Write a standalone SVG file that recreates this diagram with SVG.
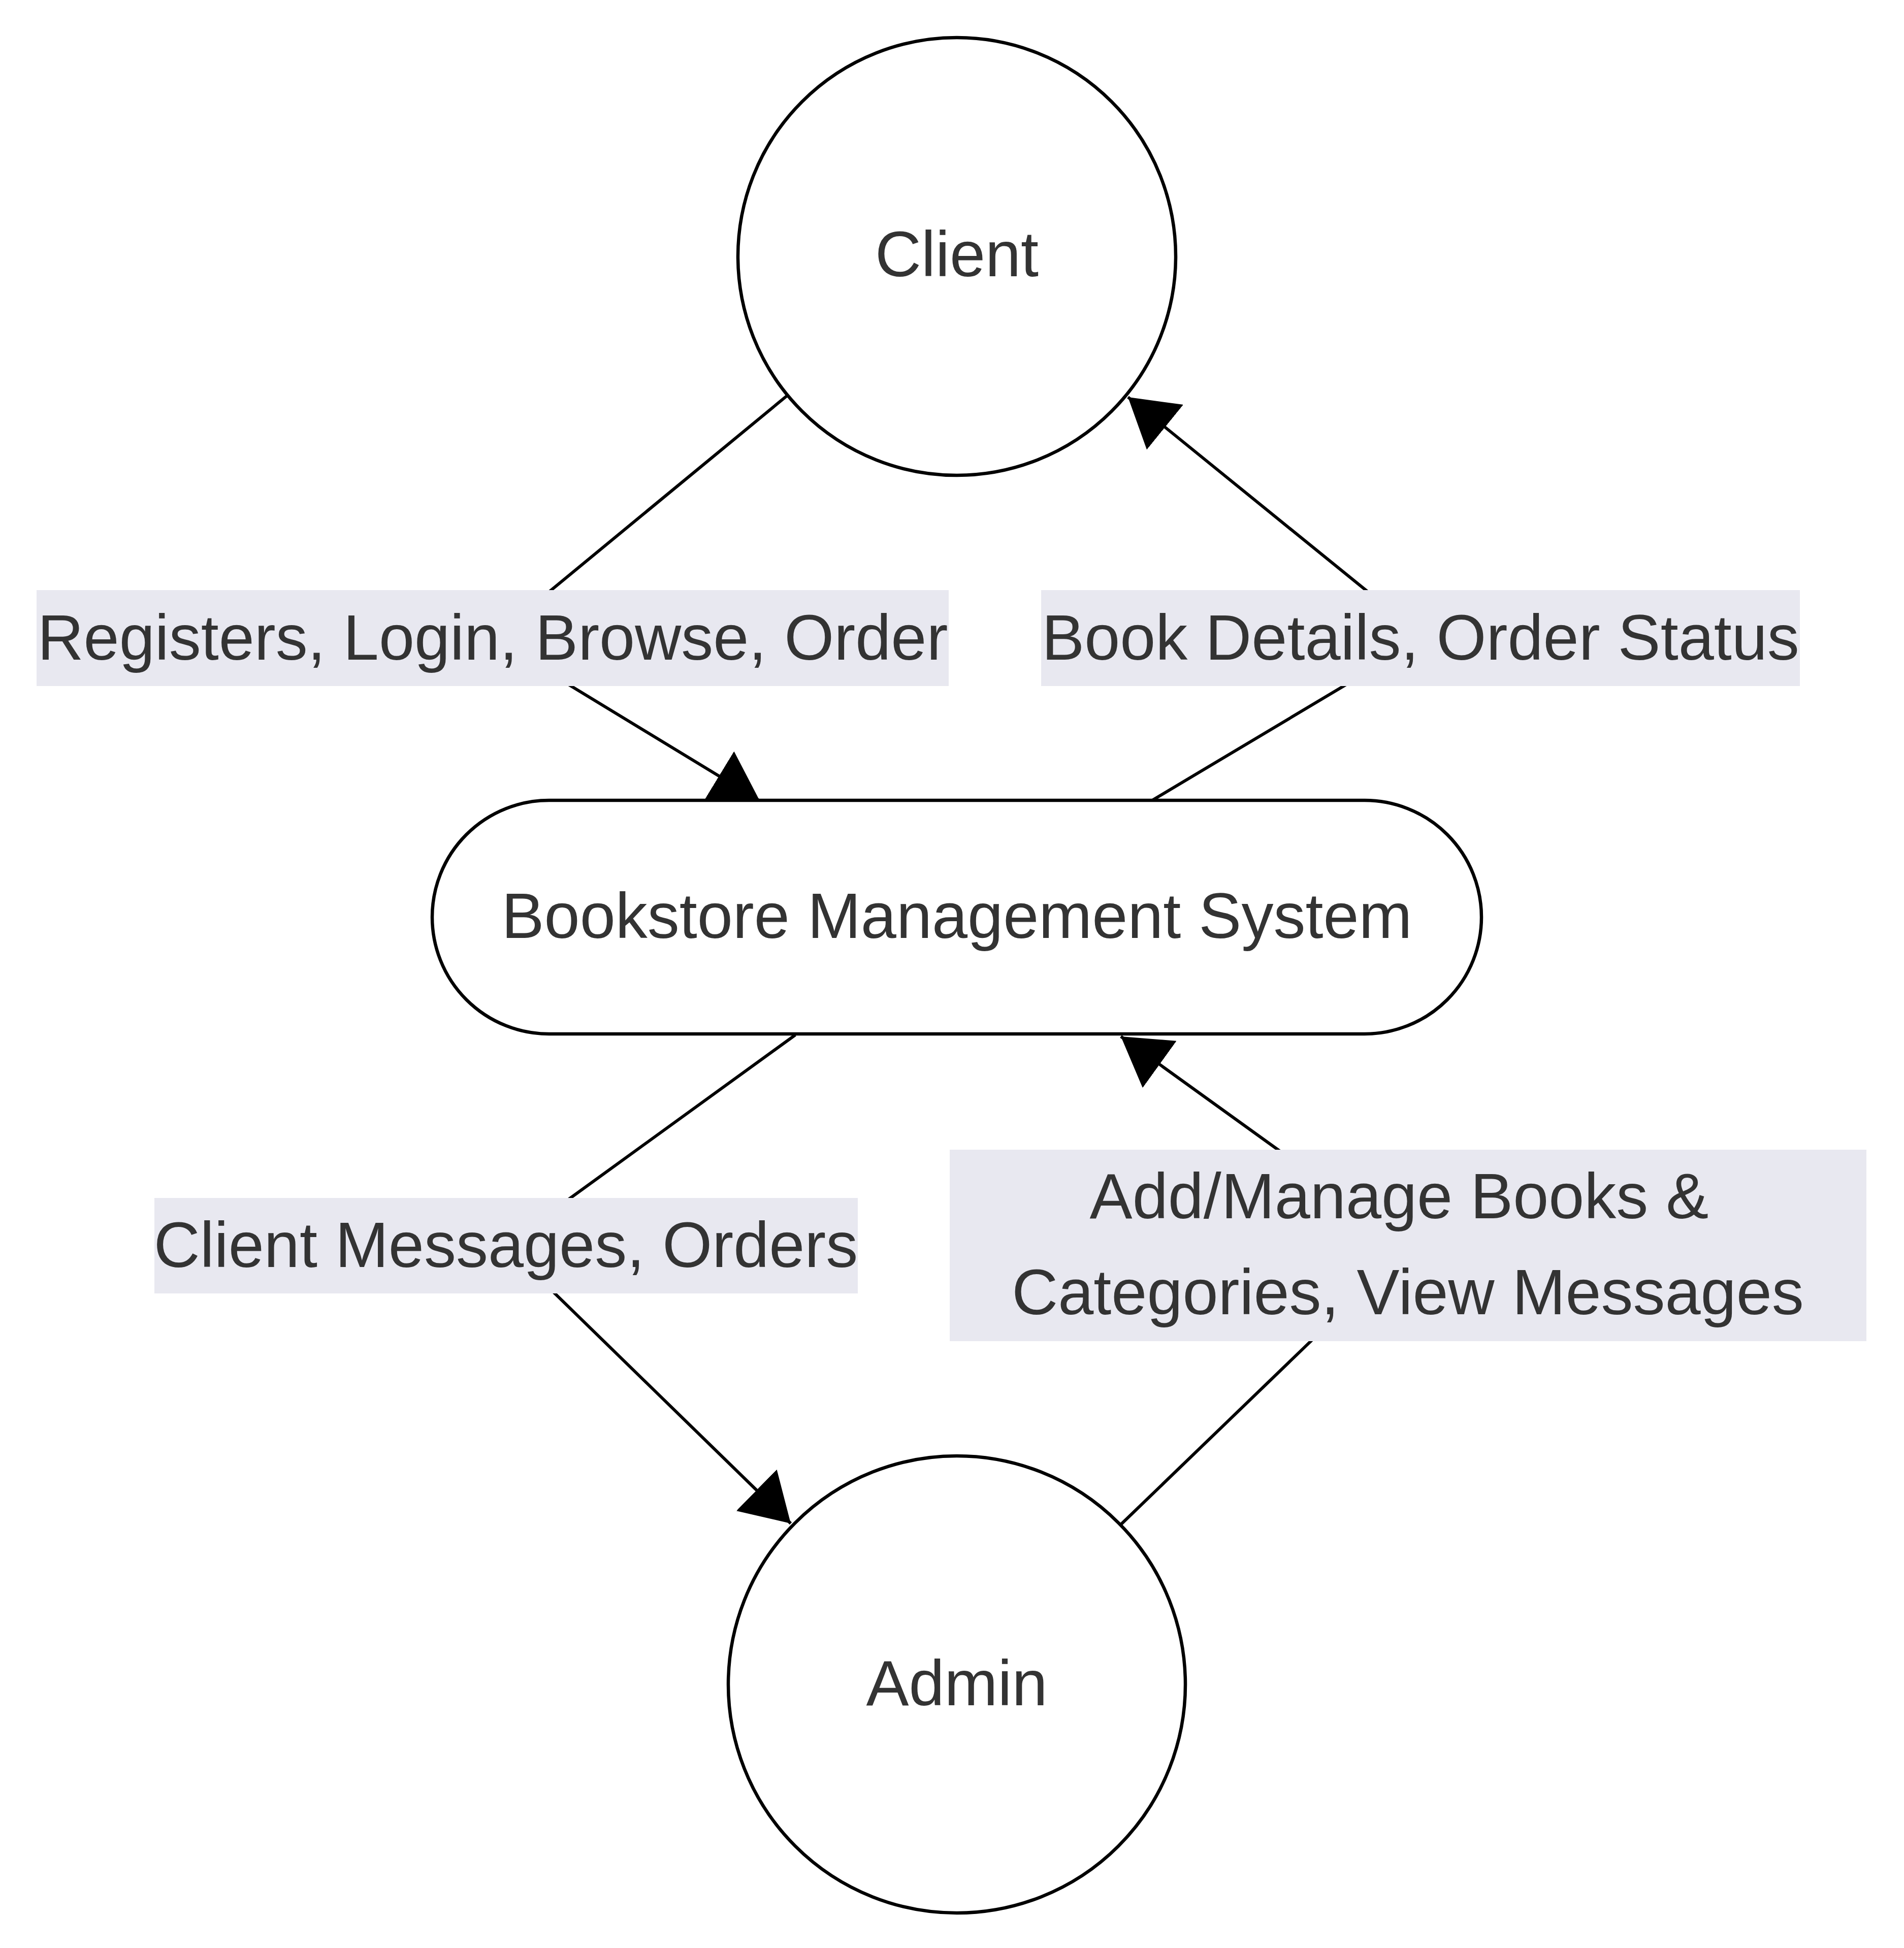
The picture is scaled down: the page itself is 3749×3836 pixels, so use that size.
<svg xmlns="http://www.w3.org/2000/svg" width="3749" height="3836" viewBox="0 0 3749 3836">
<style>
  .node { fill: #ffffff; stroke: #000000; stroke-width: 6.5; }
  .edge { fill: none; stroke: #000000; stroke-width: 6; }
  .lbl-bg { fill: #e8e8f0; stroke: none; }
  .txt { font-family: "Liberation Sans", Arial, sans-serif; font-size: 126px; fill: #333333; text-anchor: middle; }
</style>
<defs>
  <marker id="arrow" viewBox="0 0 10 10" refX="10" refY="5" markerUnits="userSpaceOnUse" markerWidth="94" markerHeight="114" orient="auto" preserveAspectRatio="none">
    <path d="M0,0 L10,5 L0,10 z" fill="#000000"/>
  </marker>
</defs>
<rect x="0" y="0" width="3749" height="3836" fill="#ffffff"/>
<g id="connectors">
  <path class="edge" d="M1550,779 L970,1257 L1496,1577" marker-end="url(#arrow)"/>
  <path class="edge" d="M2267,1577 L2805,1256 L2221,782" marker-end="url(#arrow)"/>
  <path class="edge" d="M1566,2038 L995,2452 L1557,3000" marker-end="url(#arrow)"/>
  <path class="edge" d="M2207,3002 L2777,2452 L2207,2041" marker-end="url(#arrow)"/>
</g>
<g id="edge-labels">
  <g id="label-registers">
    <rect class="lbl-bg" x="72" y="1162" width="1796" height="189"/>
    <text class="txt" x="970" y="1299">Registers, Login, Browse, Order</text>
  </g>
  <g id="label-bookdetails">
    <rect class="lbl-bg" x="2050" y="1162" width="1494" height="189"/>
    <text class="txt" x="2797" y="1299">Book Details, Order Status</text>
  </g>
  <g id="label-clientmessages">
    <rect class="lbl-bg" x="304" y="2359" width="1385" height="188"/>
    <text class="txt" x="996" y="2495">Client Messages, Orders</text>
  </g>
  <g id="label-addmanage">
    <rect class="lbl-bg" x="1870" y="2264" width="1805" height="377"/>
    <text class="txt" x="2755" y="2399">Add/Manage Books &amp;</text>
    <text class="txt" x="2772" y="2588">Categories, View Messages</text>
  </g>
</g>
<g id="node-client">
  <circle class="node" cx="1884" cy="505" r="431"/>
  <text class="txt" x="1884" y="544">Client</text>
</g>
<g id="node-bms">
  <rect class="node" x="851" y="1576" width="2066" height="460" rx="230" ry="230"/>
  <text class="txt" x="1884" y="1847">Bookstore Management System</text>
</g>
<g id="node-admin">
  <circle class="node" cx="1884" cy="3317" r="450"/>
  <text class="txt" x="1884" y="3358">Admin</text>
</g>
</svg>
